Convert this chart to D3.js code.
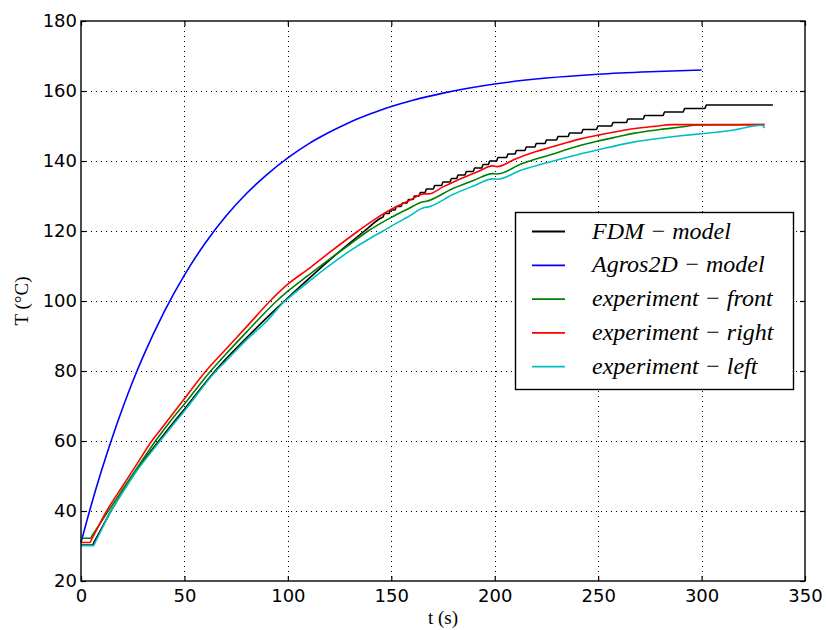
<!DOCTYPE html>
<head>
<meta charset="utf-8">
<title>Temperature rise</title>
<style>
   body {
		   margin: 0;
		   background: #ffffff;
   }
   .tick text {
		   font: 18px "DejaVu Sans", sans-serif;
		   fill: #000;
   }
   .axis-title {
		   font: 19px "Liberation Serif", serif;
		   fill: #000;
   }
   .legend text {
		   font: italic 24px "Liberation Serif", serif;
		   fill: #000;
   }
</style>
</head>
<body>
<div id="chartDiv"></div>
<script src="https://d3js.org/d3.v7.min.js"></script>
<script>

   //	Data: [t (s), T (°C)]

   var seriesNames = ["FDM \u2212 model", "Agros2D \u2212 model", "experiment \u2212 front", "experiment \u2212 right", "experiment \u2212 left"];
   var seriesColors = ["#000000", "#0000ff", "#008000", "#ff0000", "#00bfbf"];

   var fdmSmooth = [[0,30.3],[5.5,30.3],[6.5,31.3],[14.5,40],[20,45.4],[27,51.8],[38,60.3],[45,65.5],[50,69.1],[64.8,80],[70,83.4],[80,89.5],[90,95.3],[100,100.9],[110,106.3],[120,111.6],[130,116.6],[137,120],[145,123.7]];
   // FDM output is stepped in 1 °C: time at which each level is reached
   var fdmStepTimes = [146,148.9,151.8,154.7,157.6,160.5,163.4,166.3,170.3,174.3,178.4,181.6,185.6,189.6,193.7,196.9,200.9,205.7,209.8,214.6,219.4,224.3,229.9,235.5,242,249.2,256.5,263.7,271.8,281.4,291.1,301.6];
   var fdmStepLevels = [125,126,127,128,129,130,131,132,133,134,135,136,137,138,139,140,141,142,143,144,145,146,147,148,149,150,151,152,153,154,155,156];
   var fdmEnd = 334.5;

   var agros = [[0,31],[5,41.8],[10,51.7],[15,60.8],[20,69.2],[25,77],[30,84.1],[40,96.7],[50,107.4],[60,116.5],[70,124.2],[80,130.7],[90,136.2],[100,140.9],[110,144.9],[120,148.2],[130,151.1],[140,153.5],[150,155.6],[160,157.3],[175,159.4],[200,162],[225,163.7],[250,164.8],[275,165.5],[300,166]];

   var front = [[0,32.2],[4.5,32.2],[5.5,33.1],[13.2,40],[20,46],[27,52.2],[36,60],[45,67],[50,70.6],[62.7,80],[70,84.8],[80,91.1],[94.6,100],[100,102.8],[110,107.4],[120,111.9],[130,116.2],[138.8,120],[150,123.9],[158,126.3],[165,128.3],[167,128.5],[180,132.2],[190,134.5],[199,136.4],[201,136.3],[213,139.2],[227,141.8],[240,144.2],[250,145.7],[260,147],[267,147.9],[280,149],[290,149.7],[298,150.3],[330,150.4]];

   var right = [[0,31],[4.3,31],[5.3,32.1],[12.4,40],[20,47],[27,53.4],[34.2,60],[40,64.4],[50,72.1],[60.4,80],[70,86.2],[80,92.6],[91.4,100],[100,104.8],[110,109.2],[120,113.8],[134,120],[142,123.3],[150,126.2],[158,128.5],[166,130.6],[168,130.6],[175,132.6],[185,135.3],[192,137],[199,138.6],[201,138.4],[210,140.6],[220,142.7],[227,143.9],[235,145.3],[242,146.4],[250,147.4],[260,148.5],[267,149.2],[277,149.9],[286,150.4],[300,150.4],[330.6,150.4]];

   var left = [[0,30.1],[6,30.1],[7,31.2],[14.5,40],[20,45.2],[27,51.5],[38.2,60],[45,65],[50,68.6],[65.3,80],[70,82.8],[80,88.9],[90,94.4],[98.6,100],[100,100.7],[110,105.5],[120,110.1],[130,114.3],[140,118],[146,120],[150,121.4],[158,124],[166,126.7],[168,126.9],[180,130.5],[190,132.9],[199,134.9],[201,134.8],[213,137.4],[227,139.8],[240,141.8],[250,143.2],[267,145.4],[280,146.5],[290,147.2],[300,147.8],[315,148.8],[329,150.2],[330.5,149.4]];

   var xTicks = [0,50,100,150,200,250,300,350];
   var yTicks = [20,40,60,80,100,120,140,160,180];

   //	Layout

   var width = 826, height = 630;
   var plot = {left: 81, right: 805, top: 21, bottom: 581};

   var svg = d3.select("#chartDiv")
	 .append("svg")
	   .attr("width", width)
	   .attr("height", height);

   var x = d3.scaleLinear().domain([0, 350]).range([plot.left, plot.right]);
   var y = d3.scaleLinear().domain([20, 180]).range([plot.bottom, plot.top]);

   //	Grid

   var grid = svg.append("g")
	   .attr("stroke", "#000")
	   .attr("stroke-width", 1)
	   .attr("stroke-dasharray", "1,4");
   grid.selectAll("line.gx")
	   .data(xTicks.slice(1, -1))
	   .enter().append("line")
	   .attr("x1", function(d) { return Math.round(x(d)) + 0.5; })
	   .attr("x2", function(d) { return Math.round(x(d)) + 0.5; })
	   .attr("y1", plot.top)
	   .attr("y2", plot.bottom);
   grid.selectAll("line.gy")
	   .data(yTicks.slice(1, -1))
	   .enter().append("line")
	   .attr("y1", function(d) { return Math.round(y(d)) + 0.5; })
	   .attr("y2", function(d) { return Math.round(y(d)) + 0.5; })
	   .attr("x1", plot.left)
	   .attr("x2", plot.right);

   //	Lines

   var fdm = fdmSmooth.slice();
   fdmStepTimes.forEach(function(t, i) {
	   fdm.push([t, fdmStepLevels[i] - 1]);
	   fdm.push([t + 0.7, fdmStepLevels[i]]);
   });
   fdm.push([fdmEnd, fdmStepLevels[fdmStepLevels.length - 1]]);

   var allSeries = [fdm, agros, front, right, left];

   var line = d3.line()
	   .curve(d3.curveMonotoneX)
	   .x(function(d) { return x(d[0]); })
	   .y(function(d) { return y(d[1]); });

   svg.append("g").selectAll("path")
	   .data(allSeries)
	   .enter().append("path")
	   .attr("d", line)
	   .attr("fill", "none")
	   .attr("stroke", function(d, i) { return seriesColors[i]; })
	   .attr("stroke-width", 1.6)
	   .attr("stroke-linejoin", "round");

   //	Axes (classic inward ticks on all four sides)

   svg.append("g")
	   .attr("transform", "translate(0," + plot.bottom + ")")
	   .call(d3.axisBottom(x).tickValues(xTicks).tickSize(-5).tickPadding(8).tickFormat(d3.format("d")))
	   .call(function(g) { g.select(".domain").remove(); });
   svg.append("g")
	   .attr("transform", "translate(0," + plot.top + ")")
	   .call(d3.axisTop(x).tickValues(xTicks).tickSize(-5).tickFormat(""))
	   .call(function(g) { g.select(".domain").remove(); });
   svg.append("g")
	   .attr("transform", "translate(" + plot.left + ",0)")
	   .call(d3.axisLeft(y).tickValues(yTicks).tickSize(-5).tickPadding(4).tickFormat(d3.format("d")))
	   .call(function(g) { g.select(".domain").remove(); });
   svg.append("g")
	   .attr("transform", "translate(" + plot.right + ",0)")
	   .call(d3.axisRight(y).tickValues(yTicks).tickSize(-5).tickFormat(""))
	   .call(function(g) { g.select(".domain").remove(); });

   svg.selectAll(".tick line").attr("stroke-width", 1.2);

   svg.append("rect")
	   .attr("x", plot.left)
	   .attr("y", plot.top)
	   .attr("width", plot.right - plot.left)
	   .attr("height", plot.bottom - plot.top)
	   .attr("fill", "none")
	   .attr("stroke", "#000")
	   .attr("stroke-width", 1.4);

   //	Axis titles

   svg.append("text")
	   .attr("class", "axis-title")
	   .attr("x", (plot.left + plot.right) / 2)
	   .attr("y", 624)
	   .attr("text-anchor", "middle")
	   .text("t (s)");

   svg.append("text")
	   .attr("class", "axis-title")
	   .attr("transform", "translate(28," + (plot.top + plot.bottom) / 2 + ") rotate(-90)")
	   .attr("text-anchor", "middle")
	   .text("T (\u00b0C)");

   //	Legend

   var legend = svg.append("g").attr("class", "legend");
   legend.append("rect")
	   .attr("x", 515.5)
	   .attr("y", 212.5)
	   .attr("width", 278)
	   .attr("height", 177)
	   .attr("fill", "#fff")
	   .attr("stroke", "#000")
	   .attr("stroke-width", 1.4);

   var rows = legend.selectAll("g.row")
	   .data(seriesNames)
	   .enter().append("g")
	   .attr("transform", function(d, i) { return "translate(0," + (231.5 + i * 33.8) + ")"; });
   rows.append("line")
	   .attr("x1", 532)
	   .attr("x2", 565)
	   .attr("stroke", function(d, i) { return seriesColors[i]; })
	   .attr("stroke-width", 1.8);
   rows.append("text")
	   .attr("x", 592)
	   .attr("y", 7)
	   .text(function(d) { return d; });

</script>
</body>
